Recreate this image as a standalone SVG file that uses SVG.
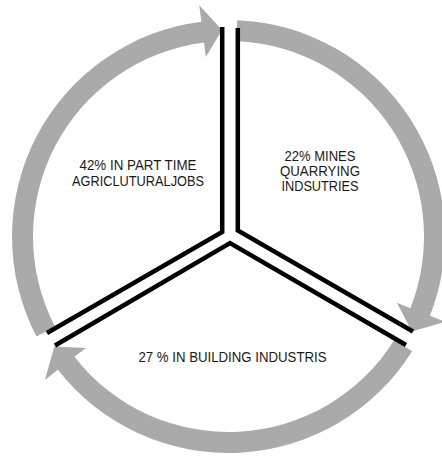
<svg xmlns="http://www.w3.org/2000/svg" width="442" height="456" viewBox="0 0 442 456">
  <style>
    .arc { fill: #aaaaaa; stroke: none; }
    .div { fill: none; stroke: #000000; stroke-width: 4.5; stroke-linejoin: miter; stroke-linecap: butt; }
    .lbl { font-family: "Liberation Sans", Arial, sans-serif; font-size: 14px; fill: #1a1a1a; text-anchor: middle; }
  </style>
  <rect width="442" height="456" fill="#ffffff"/>
  <g id="connectors">
    <path class="arc" d="M36.46,336.47 A216.5,216.5 0 0 1 201.37,21.71 L199.3,5.34 L222.0,30.1 L205.82,56.93 L204.0,42.54 A195.5,195.5 0 0 0 55.09,326.77 Z"/>
    <path class="arc" d="M237.19,20.18 A216.5,216.5 0 0 1 429.94,315.85 L445.29,321.89 L411.83,331.53 L396.91,302.84 L410.40,308.15 A195.5,195.5 0 0 0 236.35,41.16 Z"/>
    <path class="arc" d="M412.10,351.23 A216.5,216.5 0 0 1 57.90,369.79 L44.89,379.95 L54.38,346.58 L85.87,347.93 L74.44,356.86 A195.5,195.5 0 0 0 394.29,340.10 Z"/>
  </g>
  <g id="dividers">
    <polyline class="div" points="222.2,27 222.2,232 47,333"/>
    <polyline class="div" points="237.8,28 237.8,230.5 413,331.5"/>
    <polyline class="div" points="55,345.5 230,243 406,345"/>
  </g>
  <g id="node-agricultural">
    <text class="lbl" x="138" y="170" textLength="117" lengthAdjust="spacingAndGlyphs">42% IN PART TIME</text>
    <text class="lbl" x="138" y="185.5" textLength="132" lengthAdjust="spacingAndGlyphs">AGRICLUTURALJOBS</text>
  </g>
  <g id="node-mines">
    <text class="lbl" x="320" y="161" textLength="71" lengthAdjust="spacingAndGlyphs">22% MINES</text>
    <text class="lbl" x="320" y="176" textLength="80" lengthAdjust="spacingAndGlyphs">QUARRYING</text>
    <text class="lbl" x="320" y="191" textLength="77" lengthAdjust="spacingAndGlyphs">INDSUTRIES</text>
  </g>
  <g id="node-building">
    <text class="lbl" x="232.5" y="361.7" textLength="188" lengthAdjust="spacingAndGlyphs">27 % IN BUILDING INDUSTRIS</text>
  </g>
</svg>
